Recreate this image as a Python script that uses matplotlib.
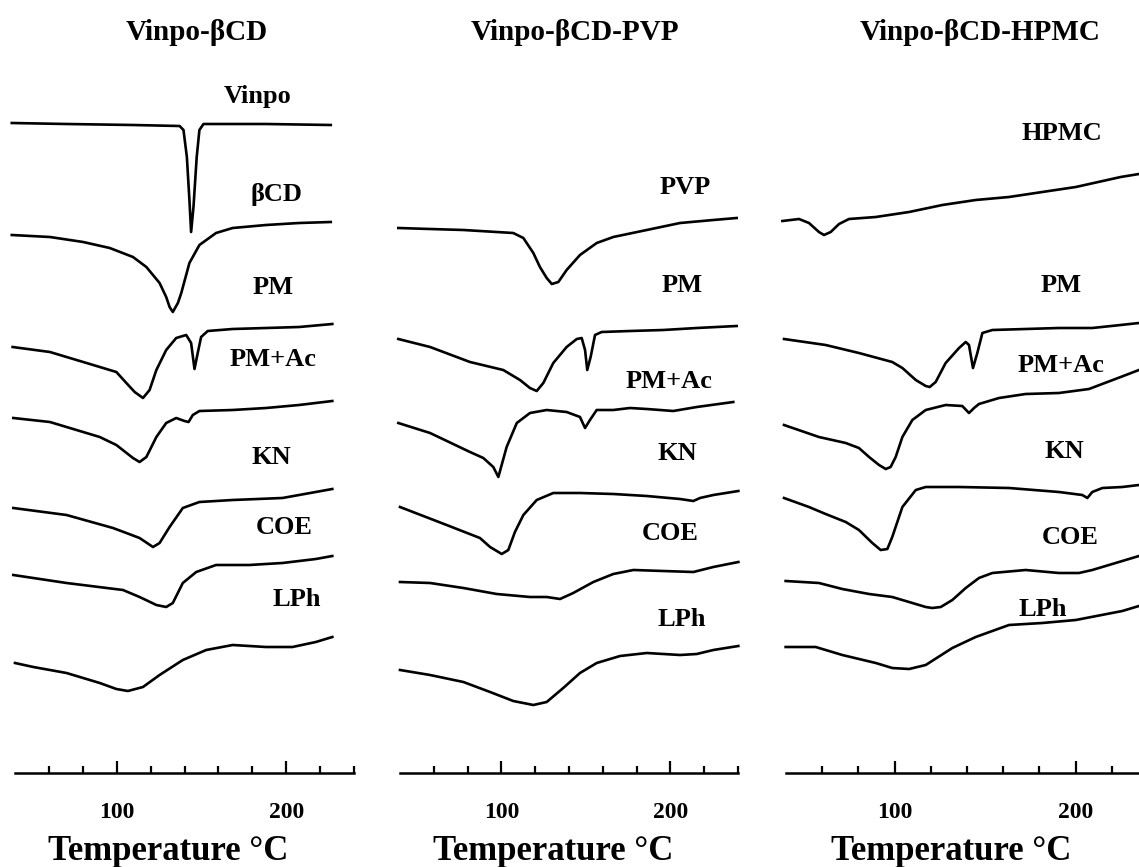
import matplotlib.pyplot as plt
from matplotlib.patches import Rectangle

plt.rcParams['font.family'] = ['Liberation Serif', 'DejaVu Serif']
plt.rcParams['font.weight'] = 'bold'
plt.rcParams['axes.labelweight'] = 'bold'

# DSC thermograms, heat flow in arbitrary units (endotherms point down)

# ---- Vinpo-bCD ----
vinpo_t = [38.1, 70.4, 109.6, 137.1, 139.4, 141.4, 142.9, 143.9, 145.3, 147.2, 148.8, 151.2, 168.4, 188.1, 226.3]
vinpo_hf = [650, 649, 648, 647, 643, 616, 573, 541, 566, 616, 643, 649, 649, 649, 648]

bcd_t = [38.1, 60.6, 80.2, 95.9, 109.6, 117.5, 125.3, 129.2, 131.2, 133.1, 136.1, 138.1, 142.9, 148.8, 158.6, 168.4, 188.1, 207.6, 226.3]
bcd_hf = [538, 536, 531, 525, 516, 506, 490, 476, 466, 461, 470, 480, 510, 528, 540, 545, 548, 550, 551]

pm1_t = [38.6, 60.6, 82.2, 99.8, 105.7, 110.6, 115.5, 119.4, 123.4, 129.2, 135.1, 141.0, 143.9, 145.9, 147.8, 149.8, 153.7, 168.4, 188.1, 207.6, 227.2]
pm1_hf = [426, 421, 410, 401, 390, 381, 375, 383, 403, 423, 435, 438, 430, 404, 420, 436, 442, 444, 445, 446, 449]

pmac1_t = [39.0, 60.6, 90.0, 99.8, 109.6, 113.5, 117.5, 123.4, 129.2, 135.1, 140.0, 142.4, 144.9, 148.8, 168.4, 188.1, 207.6, 227.2]
pmac1_hf = [355, 351, 336, 328, 315, 311, 316, 336, 350, 355, 352, 351, 358, 362, 363, 365, 368, 372]

kn1_t = [39.0, 70.4, 97.8, 105.7, 113.5, 121.4, 125.3, 131.2, 139.0, 148.8, 168.4, 197.8, 207.6, 227.2]
kn1_hf = [265, 258, 245, 240, 235, 226, 230, 246, 265, 271, 273, 275, 278, 284]

coe1_t = [39.0, 70.4, 103.7, 113.5, 123.4, 129.2, 133.1, 139.0, 146.9, 158.6, 178.2, 197.8, 217.5, 227.2]
coe1_hf = [198, 190, 183, 176, 168, 166, 170, 190, 201, 208, 208, 210, 214, 217]

lph1_t = [40.0, 50.8, 70.4, 90.0, 99.8, 106.6, 115.5, 125.3, 139.0, 152.8, 168.4, 188.1, 203.7, 217.5, 227.2]
lph1_hf = [110, 106, 100, 90, 84, 82, 86, 98, 113, 123, 128, 126, 126, 131, 136]

# ---- Vinpo-bCD-PVP ----
pvp_t = [39.0, 57.8, 77.5, 97.2, 107.0, 113.0, 118.9, 122.8, 126.8, 129.8, 133.7, 138.6, 146.5, 156.4, 166.2, 186.0, 205.7, 225.4, 239.2]
pvp_hf = [545, 544, 543, 541, 540, 535, 520, 506, 495, 489, 491, 503, 518, 530, 536, 543, 550, 553, 555]

pm2_t = [39.0, 57.8, 81.4, 101.1, 111.0, 116.9, 120.9, 124.8, 130.7, 138.6, 144.6, 147.5, 149.5, 150.8, 152.8, 155.4, 159.3, 176.1, 195.8, 215.6, 239.2]
pm2_hf = [434, 426, 411, 403, 393, 385, 382, 390, 410, 426, 434, 435, 423, 403, 416, 438, 441, 442, 443, 445, 447]

pmac2_t = [39.0, 57.8, 81.4, 89.3, 95.2, 98.2, 103.1, 109.1, 116.9, 126.8, 138.6, 146.5, 149.5, 152.4, 156.4, 166.2, 176.1, 186.0, 201.7, 215.6, 237.2]
pmac2_hf = [350, 340, 321, 315, 306, 296, 326, 350, 360, 363, 361, 356, 345, 353, 363, 363, 365, 364, 362, 366, 371]

kn2_t = [40.0, 67.6, 87.3, 93.3, 100.2, 104.1, 108.0, 113.0, 120.9, 130.7, 146.5, 166.2, 186.0, 205.7, 213.6, 217.5, 225.4, 240.2]
kn2_hf = [266, 248, 235, 226, 219, 223, 241, 258, 273, 280, 280, 279, 277, 274, 272, 275, 278, 282]

coe2_t = [40.0, 57.8, 77.5, 97.2, 116.9, 126.8, 134.7, 142.5, 154.4, 166.2, 178.1, 195.8, 213.6, 225.4, 240.2]
coe2_hf = [191, 190, 185, 179, 176, 176, 174, 180, 191, 199, 203, 202, 201, 206, 211]

lph2_t = [40.0, 57.8, 77.5, 93.3, 107.0, 118.9, 126.8, 136.6, 146.5, 156.4, 170.2, 186.0, 205.7, 215.6, 225.4, 240.2]
lph2_hf = [103, 98, 91, 81, 72, 68, 71, 85, 100, 110, 117, 120, 118, 119, 123, 127]

# ---- Vinpo-bCD-HPMC ----
hpmc_t = [38.0, 47.2, 52.7, 58.2, 61.0, 64.7, 69.3, 74.8, 89.6, 108.0, 126.4, 144.8, 163.2, 181.6, 200.1, 224.9, 235.0]
hpmc_hf = [552, 554, 550, 541, 538, 541, 549, 554, 556, 561, 568, 573, 576, 581, 586, 596, 599]

pm3_t = [38.9, 61.9, 80.3, 98.7, 104.3, 111.7, 117.2, 119.4, 122.7, 128.2, 135.6, 139.3, 141.1, 143.3, 145.7, 148.5, 154.0, 172.4, 190.8, 209.2, 224.9, 235.0]
pm3_hf = [434, 428, 420, 411, 405, 393, 387, 386, 391, 410, 425, 431, 428, 405, 420, 440, 443, 444, 445, 445, 448, 450]

pmac3_t = [38.9, 58.2, 73.0, 80.3, 85.9, 91.4, 95.1, 97.8, 100.6, 104.3, 109.8, 117.2, 128.2, 137.4, 141.1, 143.9, 146.6, 157.7, 172.4, 190.8, 207.4, 224.9, 235.0]
pmac3_hf = [348, 336, 330, 325, 316, 308, 304, 306, 316, 336, 353, 363, 368, 367, 360, 365, 369, 375, 379, 380, 384, 396, 403]

kn3_t = [38.9, 52.7, 61.9, 73.0, 80.3, 87.7, 92.3, 96.0, 98.7, 104.3, 111.7, 117.2, 135.6, 163.2, 190.8, 203.7, 206.5, 209.2, 214.8, 225.8, 235.0]
kn3_hf = [275, 266, 259, 251, 243, 230, 223, 224, 236, 266, 283, 286, 286, 285, 281, 278, 275, 281, 285, 286, 288]

coe3_t = [39.8, 58.2, 71.1, 85.9, 98.7, 108.0, 117.2, 120.8, 125.5, 131.9, 139.3, 146.6, 154.0, 172.4, 190.8, 201.9, 209.2, 225.8, 235.0]
coe3_hf = [192, 190, 184, 179, 176, 171, 166, 165, 166, 173, 185, 195, 200, 203, 200, 200, 203, 212, 217]

lph3_t = [39.8, 56.4, 71.1, 89.6, 98.7, 108.0, 117.2, 131.9, 144.8, 163.2, 181.6, 200.1, 225.8, 235.0]
lph3_hf = [126, 126, 118, 110, 105, 104, 108, 125, 136, 148, 150, 153, 162, 167]

titles = ['Vinpo-βCD', 'Vinpo-βCD-PVP', 'Vinpo-βCD-HPMC']
major_ticks = [100, 200]
minor_ticks = [60, 80, 120, 140, 160, 180, 220, 240]

panels = [
    [('Vinpo', vinpo_t, vinpo_hf), ('βCD', bcd_t, bcd_hf), ('PM', pm1_t, pm1_hf),
     ('PM+Ac', pmac1_t, pmac1_hf), ('KN', kn1_t, kn1_hf), ('COE', coe1_t, coe1_hf),
     ('LPh', lph1_t, lph1_hf)],
    [('PVP', pvp_t, pvp_hf), ('PM', pm2_t, pm2_hf), ('PM+Ac', pmac2_t, pmac2_hf),
     ('KN', kn2_t, kn2_hf), ('COE', coe2_t, coe2_hf), ('LPh', lph2_t, lph2_hf)],
    [('HPMC', hpmc_t, hpmc_hf), ('PM', pm3_t, pm3_hf), ('PM+Ac', pmac3_t, pmac3_hf),
     ('KN', kn3_t, kn3_hf), ('COE', coe3_t, coe3_hf), ('LPh', lph3_t, lph3_hf)],
]

# where each curve label sits (temperature, heat flow)
label_pos = [
    [(183, 676), (194, 578), (192, 486), (192, 413), (191, 316), (199, 245), (206, 173)],
    [(209, 585), (207, 488), (199, 391), (204, 320), (200, 239), (207, 153)],
    [(192.5, 640), (192, 488), (192, 408), (194, 321), (197, 236), (182, 163)],
]

W, H = 1139, 867
axis_y = 773
# left / right pixel of the 40..240 C axis in each panel
panel_px = [(15, 354), (400, 738), (786, 1148)]
title_x = [197, 575, 980]

fig = plt.figure(figsize=(W / 100, H / 100), dpi=100)

for i, curves in enumerate(panels):
    left, right = panel_px[i]
    ax = fig.add_axes([left / W, (H - axis_y) / H, (right - left) / W, axis_y / H])
    ax.patch.set_visible(False)
    ax.set_xlim(40, 240)
    ax.set_ylim(0, axis_y)

    for (name, t, hf), (lx, ly) in zip(curves, label_pos[i]):
        ax.plot(t, hf, color='black', lw=1.9, clip_on=False, solid_joinstyle='round')
        txt = ax.text(lx, ly, name, fontsize=19, ha='center', va='center')
        # the scan chops a couple of labels
        if i == 1 and name == 'COE':
            txt.set_clip_path(Rectangle((0, 0), 300, 242, transform=ax.transData))
        if i == 2 and name == 'PM+Ac':
            txt.set_clip_path(Rectangle((0, 403), 300, 300, transform=ax.transData))

    for side in ['left', 'right', 'top']:
        ax.spines[side].set_visible(False)
    ax.spines['bottom'].set_linewidth(1.8)
    ax.set_yticks([])
    ax.set_xticks(major_ticks)
    ax.set_xticks(minor_ticks, minor=True)
    ax.tick_params(axis='x', which='major', direction='in', length=9, width=1.6, pad=21, labelsize=17)
    ax.tick_params(axis='x', which='minor', direction='in', length=5, width=1.6)

    ax.set_xlabel('Temperature °C', fontsize=25, fontweight='bold')
    ax.xaxis.label.set_va('center')
    width = right - left
    ax.xaxis.set_label_coords((width / 2 - 16) / width, (axis_y - 851) / axis_y)

    fig.text(title_x[i] / W, 1 - 32 / H, titles[i], fontsize=21, ha='center', va='center')

fig.savefig('out.png', dpi=100)
